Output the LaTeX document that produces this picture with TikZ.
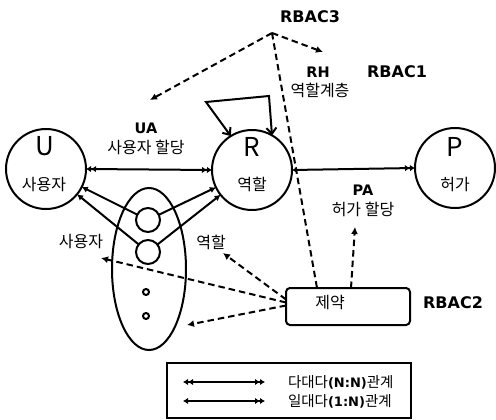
\documentclass[tikz,border=0pt]{standalone}
\usepackage{fontspec}
\setmainfont{Noto Sans CJK KR}
\newfontfamily\latb{DejaVu Sans}
\usetikzlibrary{arrows.meta,shapes.geometric}

\tikzset{
  every node/.style={inner sep=0pt,outer sep=0pt},
  ent/.style={circle,draw,line width=2pt,minimum size=80pt},
  big/.style={font=\fontsize{26}{26}\selectfont},
  kr/.style={font=\fontsize{16}{17}\selectfont},
  tag/.style={font=\latb\bfseries\fontsize{16}{17}\selectfont},
  stag/.style={font=\latb\bfseries\fontsize{14.5}{15}\selectfont},
  lg/.style={font=\fontsize{14.5}{15}\selectfont},
  solidln/.style={line width=2pt},
  nn/.style={solidln,{Latex[length=5pt,width=6.5pt] Latex[length=5pt,width=6.5pt]}-{Latex[length=5pt,width=6.5pt] Latex[length=5pt,width=6.5pt]}},
  onen/.style={solidln,{Latex[length=5pt,width=6.5pt]}-{Latex[length=5pt,width=6.5pt] Latex[length=5pt,width=6.5pt]}},
  sarr/.style={solidln,-{Latex[length=6pt,width=6.5pt]}},
  darr/.style={line width=2pt,dash pattern=on 6.5pt off 4pt,-{Latex[length=7pt,width=7pt]}},
  dln/.style={line width=2pt,dash pattern=on 6.5pt off 4pt},
}

\begin{document}
\begin{tikzpicture}[x=1pt,y=-1pt]
\useasboundingbox (0,0) rectangle (496,420);

% entities
\node[ent] (U) at (46,169) {};
\node[big] (Ul) at (45,146) {U};
\node[kr] (Uk) at (44,185) {사용자};

\node[ent] (R) at (252,170) {};
\node[big] (Rl) at (252,147) {R};
\node[kr] (Rk) at (252,184) {역할};

\node[ent] (P) at (455,168) {};
\node[big] (Pl) at (455,147) {P};
\node[kr] (Pk) at (455,185) {허가};

% session group
\node[ellipse,draw,line width=2pt,minimum width=74pt,minimum height=162pt] (grp) at (149,269) {};
\node[circle,draw,line width=2pt,minimum size=24pt] (s1) at (148,220) {};
\node[circle,draw,line width=2pt,minimum size=24pt] (s2) at (148,252) {};
\node[circle,draw,line width=2pt,minimum size=6pt] (d1) at (146,292) {};
\node[circle,draw,line width=2pt,minimum size=6pt] (d2) at (146,316) {};

\draw[sarr] (s1) -- (U);
\draw[sarr] (s2) -- (U);
\draw[sarr] (s1) -- (R);
\draw[sarr] (s2) -- (R);

\node[kr] (su) at (81,242) {사용자};
\node[kr] (sr) at (211,242) {역할};

% assignments
\draw[nn] (U.east) -- (R.west);
\draw[onen] (R.east) -- (P.west);
\node[stag] (UA) at (146,128) {UA};
\node[kr] (UAk) at (146,147) {사용자 할당};
\node[stag] (PA) at (363,190) {PA};
\node[kr] (PAk) at (363,209) {허가 할당};

% role hierarchy loop
\coordinate (lpA) at (206,102);
\coordinate (lpB) at (269,96);
\draw[solidln,{Straight Barb[length=6pt,width=10pt]}-{Straight Barb[length=6pt,width=10pt]}]
  (R.122) -- (lpA) -- (lpB) -- (R.60);
\node[stag] (RH) at (318,72) {RH};
\node[kr] (RHk) at (320,90) {역할계층};

% model labels
\node[tag] (rb3l) at (310,17) {RBAC3};
\node[tag] (rb1l) at (397,72) {RBAC1};
\node[tag] (rb2l) at (453,303) {RBAC2};

% constraints
\node[draw,line width=2pt,rounded corners=4pt,minimum width=124pt,minimum height=37pt] (box) at (348,306.5) {};
\node[kr] (boxk) at (330,303) {제약};

\coordinate (rb3) at (272,33);
\coordinate (uaT) at (150,100);
\coordinate (rhT) at (323,52);
\draw[darr] (rb3) -- (uaT);
\draw[darr] (rb3) -- (rhT);
\draw[dln] (rb3) -- ([xshift=-31pt]box.north);

\coordinate (paT) at (355,227);
\coordinate (srT) at (223,253);
\coordinate (suT) at (101,258);
\coordinate (grT) at (187,325);
\draw[darr] ([xshift=3pt]box.north) -- (paT);
\draw[darr] ([yshift=7pt]box.west) -- (srT);
\draw[darr] ([yshift=4pt]box.west) -- (suT);
\draw[darr] ([yshift=1pt]box.west) -- (grT);

% legend
\node[draw,line width=2pt,minimum width=244pt,minimum height=55pt] (leg) at (289,390.5) {};
\coordinate (l1a) at (183,382);
\coordinate (l1b) at (265,382);
\coordinate (l2a) at (183,401);
\coordinate (l2b) at (265,401);
\draw[nn] (l1a) -- (l1b);
\draw[onen] (l2a) -- (l2b);
\node[lg,anchor=west] (lg1) at (288,382) {다대다{\latb\bfseries\fontsize{13}{14}\selectfont(N:N)}관계};
\node[lg,anchor=west] (lg2) at (288,401) {일대다{\latb\bfseries\fontsize{13}{14}\selectfont(1:N)}관계};
\end{tikzpicture}
\end{document}
